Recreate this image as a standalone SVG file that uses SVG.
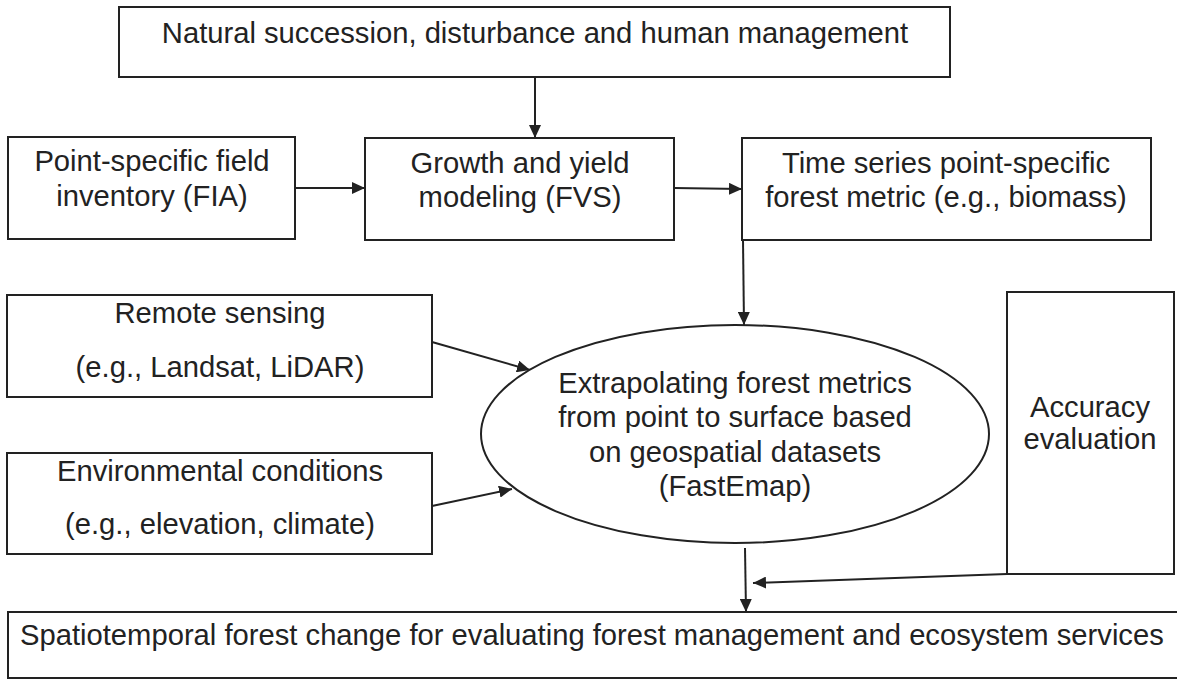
<svg xmlns="http://www.w3.org/2000/svg" width="1177" height="679" viewBox="0 0 1177 679">
  <style>
    .box { fill: #ffffff; stroke: #222222; stroke-width: 2; }
    .lbl { font-family: "Liberation Sans", Arial, sans-serif; font-size: 29.2px; fill: #222222; text-anchor: middle; }
    .conn { stroke: #222222; stroke-width: 2; fill: none; marker-end: url(#arrow); }
  </style>
  <defs>
    <marker id="arrow" markerUnits="userSpaceOnUse" markerWidth="13" markerHeight="12" refX="13" refY="6" orient="auto">
      <path d="M0,0 L13,6 L0,12 z" fill="#222222"/>
    </marker>
  </defs>
  <rect x="0" y="0" width="1177" height="679" fill="#ffffff"/>

  <g id="connectors">
    <line class="conn" x1="535" y1="77" x2="535" y2="138"/>
    <line class="conn" x1="295" y1="188" x2="365" y2="188"/>
    <line class="conn" x1="674" y1="188" x2="742" y2="189"/>
    <line class="conn" x1="743" y1="240" x2="744" y2="325"/>
    <line class="conn" x1="432" y1="342" x2="530" y2="370"/>
    <line class="conn" x1="432" y1="506" x2="512" y2="489"/>
    <line class="conn" x1="745" y1="548" x2="746" y2="612"/>
    <line class="conn" x1="1007" y1="574" x2="753" y2="583"/>
  </g>

  <g id="node-natural">
    <rect class="box" x="119" y="7" width="831" height="70"/>
    <text class="lbl" x="535" y="43">Natural succession, disturbance and human management</text>
  </g>

  <g id="node-fia">
    <rect class="box" x="8" y="137" width="287" height="102"/>
    <text class="lbl" x="152" y="171">Point-specific field</text>
    <text class="lbl" x="152" y="206">inventory (FIA)</text>
  </g>

  <g id="node-growth">
    <rect class="box" x="365" y="138" width="309" height="102"/>
    <text class="lbl" x="520" y="173">Growth and yield</text>
    <text class="lbl" x="520" y="207">modeling (FVS)</text>
  </g>

  <g id="node-timeseries">
    <rect class="box" x="742" y="138" width="409" height="102"/>
    <text class="lbl" x="946" y="173">Time series point-specific</text>
    <text class="lbl" x="946" y="207">forest metric (e.g., biomass)</text>
  </g>

  <g id="node-remote">
    <rect class="box" x="7" y="295" width="425" height="102"/>
    <text class="lbl" x="220" y="323">Remote sensing</text>
    <text class="lbl" x="220" y="377">(e.g., Landsat, LiDAR)</text>
  </g>

  <g id="node-environment">
    <rect class="box" x="7" y="453" width="425" height="101"/>
    <text class="lbl" x="220" y="481">Environmental conditions</text>
    <text class="lbl" x="220" y="534">(e.g., elevation, climate)</text>
  </g>

  <g id="node-fastemap">
    <ellipse class="box" cx="735" cy="434" rx="254" ry="109"/>
    <text class="lbl" x="735" y="393">Extrapolating forest metrics</text>
    <text class="lbl" x="735" y="427">from point to surface based</text>
    <text class="lbl" x="735" y="462">on geospatial datasets</text>
    <text class="lbl" x="735" y="496">(FastEmap)</text>
  </g>

  <g id="node-accuracy">
    <rect class="box" x="1007" y="292" width="167" height="282"/>
    <text class="lbl" x="1090" y="417">Accuracy</text>
    <text class="lbl" x="1090" y="449">evaluation</text>
  </g>

  <g id="node-output">
    <rect class="box" x="8" y="612" width="1180" height="66"/>
    <text class="lbl" x="20" y="645" style="text-anchor:start">Spatiotemporal forest change for evaluating forest management and ecosystem services</text>
  </g>
</svg>
